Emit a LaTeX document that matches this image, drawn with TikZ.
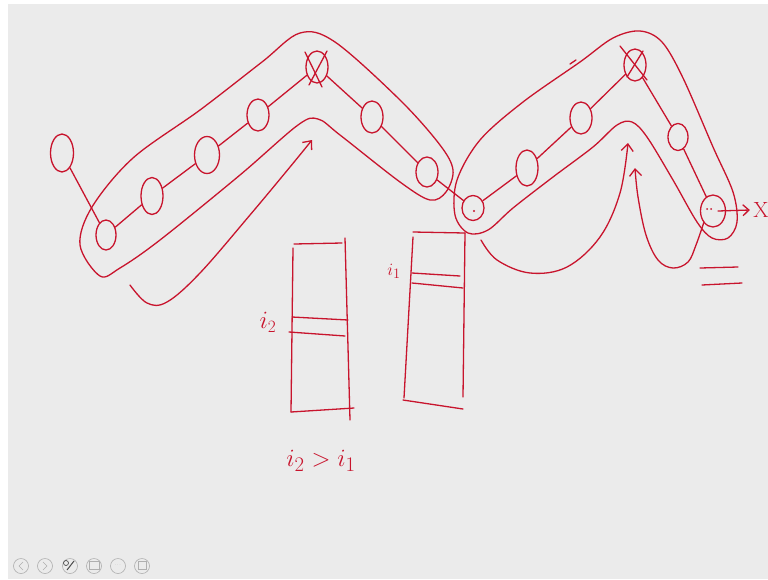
\documentclass[tikz,border=0pt]{standalone}
\usepackage{tikz}
\usetikzlibrary{
    arrows.meta,
    shapes.geometric
}

\definecolor{ink}{RGB}{200,20,45}
\definecolor{board}{RGB}{235,235,235}
\definecolor{iconline}{RGB}{175,175,175}

\begin{document}
\begin{tikzpicture}[
    x=1pt, y=-1pt,
    vertex/.style={
        draw=ink,
        ellipse,
        line width=1.3pt,
        minimum width=22pt,
        minimum height=32pt,
        inner sep=0pt
    },
    pen/.style={
        draw=ink,
        line width=1.3pt,
        line cap=round,
        line join=round
    },
    flow/.style={
        pen,
        -{Straight Barb[length=7pt,width=12pt]}
    },
    scribble/.style={
        text=ink,
        font=\fontsize{24}{26}\selectfont
    },
    toolicon/.style={
        draw=iconline,
        circle,
        minimum size=15pt,
        inner sep=0pt,
        line width=0.6pt
    }
]

% page
\fill[white] (0,0) rectangle (768,579);
\fill[board] (8,4) rectangle (768,579);
\useasboundingbox (0,0) rectangle (768,579);

% left chain
\node[vertex, minimum width=23pt, minimum height=38pt] (lone) at (62,153) {};
\node[vertex, minimum width=20pt, minimum height=30pt] (a1) at (106,235) {};
\node[vertex, minimum height=37pt] (a2) at (152,196) {};
\node[vertex, minimum width=25pt, minimum height=37pt] (a3) at (207,155) {};
\node[vertex] (a4) at (258,115) {};
\node[vertex] (a5) at (317,67) {};
\node[vertex] (a6) at (372,117) {};
\node[vertex, minimum height=30pt] (a7) at (427,172) {};

% right chain
\node[vertex, minimum height=25pt] (b1) at (473,208) {};
\node[vertex, minimum height=36pt] (b2) at (527,168) {};
\node[vertex] (b3) at (581,118) {};
\node[vertex] (b4) at (635,65) {};
\node[vertex, minimum width=20pt, minimum height=27pt] (b5) at (678,137) {};
\node[vertex, minimum width=25pt, minimum height=32pt] (b6) at (713,211) {};
\node[scribble, font=\fontsize{22}{24}\selectfont] (out) at (761,210) {X};

% chain edges
\draw[pen] (lone) -- (a1);
\draw[pen] (a1) -- (a2);
\draw[pen] (a2) -- (a3);
\draw[pen] (a3) -- (a4);
\draw[pen] (a4) -- (a5);
\draw[pen] (a5) -- (a6);
\draw[pen] (a6) -- (a7);
\draw[pen] (a7) -- (b1);
\draw[pen] (b1) -- (b2);
\draw[pen] (b2) -- (b3);
\draw[pen] (b3) -- (b4);
\draw[pen] (b4) -- (b5);
\draw[pen] (b5) -- (b6);
\draw[flow, -{Straight Barb[length=6pt,width=11pt]}] (b6.center) ++(5,0) -- (out.west);

% crossed out vertices
\draw[pen] (305,52) -- (322,87);
\draw[pen] (327,51) -- (309,85);
\draw[pen] (620,46) -- (647,80);
\draw[pen] (643,51) -- (627,77);

% dots inside
\fill[ink] (474,211) circle (1.2pt);
\fill[ink] (707,209) circle (1pt);
\fill[ink] (711,209) circle (1pt);

% enclosing loops
\draw[pen] plot[smooth cycle, tension=0.55] coordinates {
    (100,276) (80,245) (92,207) (133,158) (200,110) (262,62)
    (300,33) (335,42) (400,100) (440,145) (453,170) (446,192)
    (430,200) (400,182) (340,135) (318,119) (298,125) (240,175)
    (160,240) (120,268)};
\draw[pen] plot[smooth cycle, tension=0.55] coordinates {
    (455,215) (457,180) (480,140) (523,102) (580,62) (613,38)
    (640,31) (662,42) (683,78) (713,147) (733,192) (737,222)
    (728,238) (712,238) (697,222) (673,180) (647,137) (632,122)
    (617,125) (593,147) (553,177) (513,208) (488,230) (468,233)};
\draw[pen] (570,64) -- (576,60);

% traversal arrows
\coordinate (leftstart) at (130,285);
\coordinate (lefttip) at (312,140);
\draw[flow] plot[smooth, tension=0.6] coordinates {
    (leftstart) (147,303) (167,302) (200,273) (250,215) (290,167) (lefttip)};
\coordinate (midstart) at (481,240);
\coordinate (midtip) at (628,143);
\draw[flow] plot[smooth, tension=0.6] coordinates {
    (midstart) (497,260) (530,273) (567,267) (600,237) (620,193) (midtip)};
\draw[flow] plot[smooth, tension=0.6] coordinates {
    (b6.south west) (696,245) (688,262) (673,268) (658,260) (646,235)
    (638,197) (635,168)};

% equals mark
\draw[pen] (700,268) -- (738,267);
\draw[pen] (702,285) -- (742,283);

% stacks
\draw[pen] (294,244) -- (342,243);
\draw[pen] (293,248) -- (291,412);
\draw[pen] (345,238) -- (350,420);
\draw[pen] (291,412) -- (354,408);
\draw[pen] (292,317) -- (348,320);
\draw[pen] (289,332) -- (345,336);
\node[scribble] (itwo) at (268,322) {$i_2$};

\draw[pen] (413,232) -- (465,233);
\draw[pen] (413,237) -- (404,398);
\draw[pen] (465,233) -- (463,397);
\draw[pen] (403,400) -- (463,409);
\draw[pen] (412,273) -- (460,276);
\draw[pen] (412,283) -- (463,288);
\node[scribble, font=\fontsize{19}{21}\selectfont] (ione) at (394,271) {$i_1$};

\node[scribble, font=\fontsize{28}{30}\selectfont] (compare) at (321,461) {$i_2 > i_1$};

% viewer toolbar
\foreach \k/\x in {0/21, 1/45, 2/70, 3/94, 4/118, 5/142} {
    \node[toolicon] (tool\k) at (\x,566) {};
}
\draw[iconline, line width=0.6pt] (23,562) -- (19,566) -- (23,570);
\draw[iconline, line width=0.6pt] (43,562) -- (47,566) -- (43,570);
\draw[black!70, line width=1pt] (67,570) -- (74,561);
\draw[black!70, line width=0.7pt] (66,563) circle (2.5pt);
\draw[iconline, line width=0.6pt] (89,561) rectangle (99,569);
\node[text=iconline, font=\tiny] at (118,565) {...};
\draw[iconline, line width=0.6pt] (138,561) rectangle (146,569);

\end{tikzpicture}
\end{document}
